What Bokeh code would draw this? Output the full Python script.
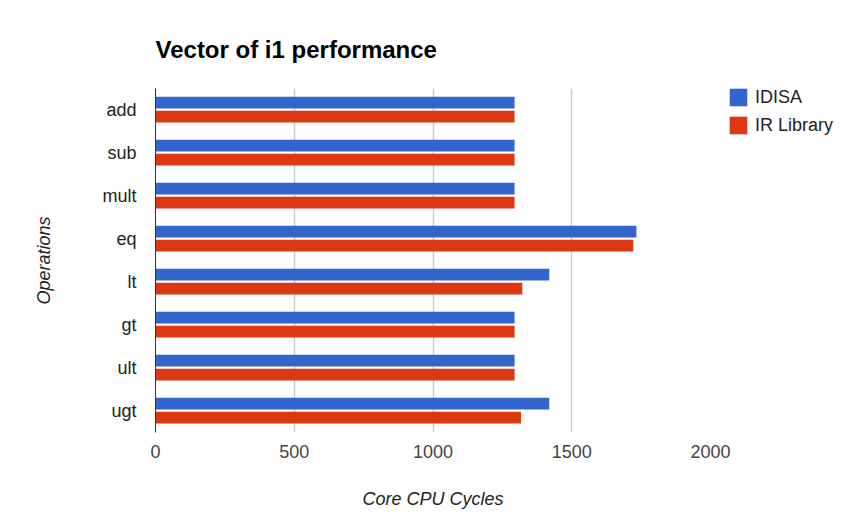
from bokeh.plotting import figure
from bokeh.models import FactorRange, Range1d, FixedTicker, Legend, LegendItem, ColumnDataSource
from bokeh.transform import dodge
from bokeh.embed import file_html
from bokeh.resources import INLINE

ops = ["add", "sub", "mult", "eq", "lt", "gt", "ult", "ugt"]
idisa = [1294, 1294, 1294, 1733, 1419, 1294, 1294, 1419]
irlib = [1294, 1294, 1294, 1722, 1322, 1294, 1294, 1317]
series_names = ["IDISA", "IR Library"]
series_colors = ["#3366cc", "#dc3912"]
x_ticks = [0, 500, 1000, 1500, 2000]

src = ColumnDataSource(dict(op=ops, idisa=idisa, irlib=irlib))

FONT = "Liberation Sans"

p = figure(frame_width=555, frame_height=344, output_backend="svg", toolbar_location=None,
           y_range=FactorRange(factors=list(reversed(ops)), range_padding=0),
           x_range=Range1d(0, 2000),
           min_border_left=155, min_border_right=0, min_border_top=88, min_border_bottom=88)
p.outline_line_color = None

r1 = p.hbar(y=dodge("op", 0.17, range=p.y_range), left=0, right="idisa", height=0.275,
            source=src, color=series_colors[0], line_color=None)
r2 = p.hbar(y=dodge("op", -0.155, range=p.y_range), left=0, right="irlib", height=0.275,
            source=src, color=series_colors[1], line_color=None)

p.title.text = "Vector of i1 performance"
p.title.text_font = FONT
p.title.text_font_size = "24px"
p.title.text_font_style = "bold"
p.title.text_color = "#000000"
p.title.offset = 0
p.title.standoff = 52

p.xaxis.ticker = FixedTicker(ticks=x_ticks)
p.xaxis.axis_line_color = None
p.xaxis.major_tick_line_color = None
p.xaxis.minor_tick_line_color = None
p.xaxis.major_label_text_font = FONT
p.xaxis.major_label_text_font_size = "18px"
p.xaxis.major_label_text_color = "#444444"
p.xaxis.major_label_standoff = 6
p.xaxis.axis_label = "Core CPU Cycles"
p.xaxis.axis_label_text_font = FONT
p.xaxis.axis_label_text_font_size = "18px"
p.xaxis.axis_label_text_font_style = "italic"
p.xaxis.axis_label_text_color = "#222222"
p.xaxis.axis_label_standoff = 28

p.yaxis.axis_line_color = "#333333"
p.yaxis.axis_line_width = 1
p.yaxis.major_tick_line_color = None
p.yaxis.minor_tick_line_color = None
p.yaxis.major_label_text_font = FONT
p.yaxis.major_label_text_font_size = "18px"
p.yaxis.major_label_text_color = "#222222"
p.yaxis.major_label_standoff = 13
p.yaxis.axis_label = "Operations"
p.yaxis.axis_label_text_font = FONT
p.yaxis.axis_label_text_font_size = "18px"
p.yaxis.axis_label_text_font_style = "italic"
p.yaxis.axis_label_text_color = "#222222"
p.yaxis.axis_label_standoff = 45

p.ygrid.grid_line_color = None
p.xgrid.ticker = FixedTicker(ticks=x_ticks[1:])
p.xgrid.grid_line_color = "#cccccc"
p.xgrid.grid_line_width = 1.5

legend = Legend(items=[LegendItem(label=series_names[0], renderers=[r1]),
                       LegendItem(label=series_names[1], renderers=[r2])],
                location=(17, 296), orientation="vertical",
                padding=0, margin=0, spacing=6,
                glyph_width=22, glyph_height=22, label_height=18, label_standoff=6,
                label_text_font=FONT, label_text_font_size="18px", label_text_color="#222222",
                border_line_color=None, background_fill_alpha=0)
p.add_layout(legend, "right")

open("out.html", "w").write(file_html(p, INLINE))
